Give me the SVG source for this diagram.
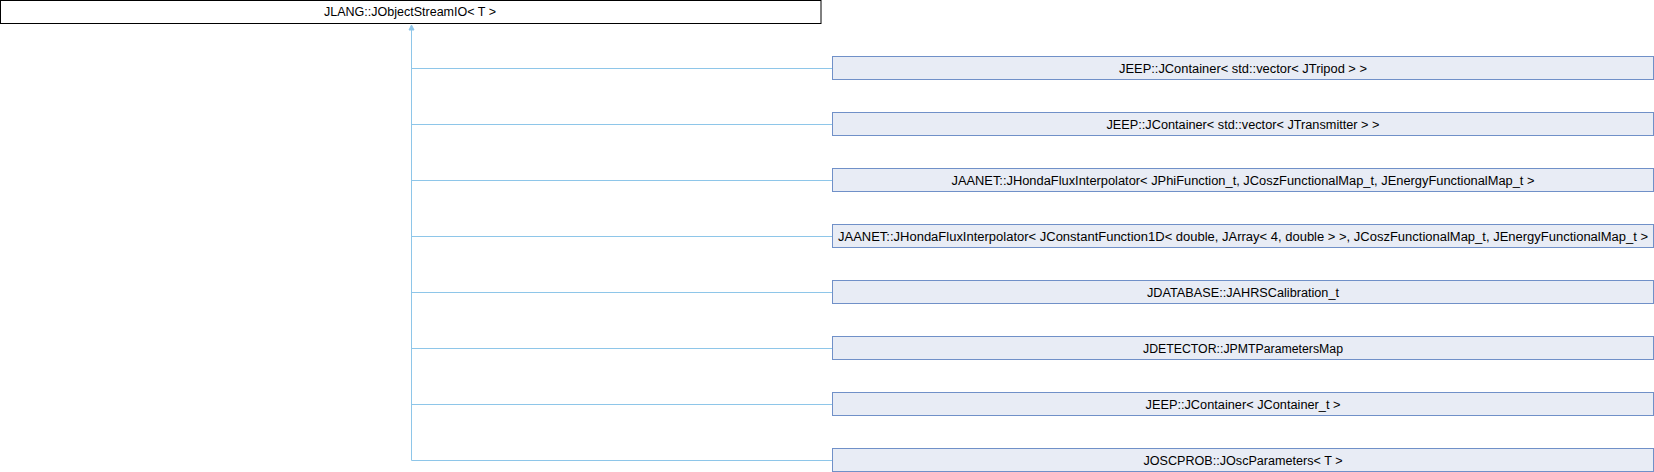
<svg xmlns="http://www.w3.org/2000/svg" width="1654" height="472" viewBox="0 0 1654 472">
<style>
.base rect{fill:#ffffff;stroke:#000000;stroke-width:1}
.node rect{fill:#e8ecf5;stroke:#7090c8;stroke-width:1}
text{font-family:"Liberation Sans",Arial,sans-serif;font-size:12.5px;fill:#000000;text-anchor:middle}
.conn path{fill:none;stroke:#8ec6e9;stroke-width:1}
.conn polygon{fill:#8ec6e9;stroke:#8ec6e9;stroke-width:1}
</style>
<rect x="0" y="0" width="1654" height="472" fill="#ffffff"/>
<g id="connectors" class="conn">
<path d="M411.5,30 V460.5"/>
<path d="M411.5,68.5 H832.5"/>
<path d="M411.5,124.5 H832.5"/>
<path d="M411.5,180.5 H832.5"/>
<path d="M411.5,236.5 H832.5"/>
<path d="M411.5,292.5 H832.5"/>
<path d="M411.5,348.5 H832.5"/>
<path d="M411.5,404.5 H832.5"/>
<path d="M411.5,460.5 H832.5"/>
<polygon points="411.5,25 409,30 414,30"/>
</g>
<g id="n0" class="base"><rect x="0.5" y="0.5" width="820.5" height="23"/><text x="410" y="16" textLength="172" lengthAdjust="spacingAndGlyphs">JLANG::JObjectStreamIO&lt; T &gt;</text></g>
<g id="n1" class="node"><rect x="832.5" y="56.5" width="821" height="23"/><text x="1243" y="72.5" textLength="248" lengthAdjust="spacingAndGlyphs">JEEP::JContainer&lt; std::vector&lt; JTripod &gt; &gt;</text></g>
<g id="n2" class="node"><rect x="832.5" y="112.5" width="821" height="23"/><text x="1243" y="128.5" textLength="273" lengthAdjust="spacingAndGlyphs">JEEP::JContainer&lt; std::vector&lt; JTransmitter &gt; &gt;</text></g>
<g id="n3" class="node"><rect x="832.5" y="168.5" width="821" height="23"/><text x="1243" y="184.5" textLength="583" lengthAdjust="spacingAndGlyphs">JAANET::JHondaFluxInterpolator&lt; JPhiFunction_t, JCoszFunctionalMap_t, JEnergyFunctionalMap_t &gt;</text></g>
<g id="n4" class="node"><rect x="832.5" y="224.5" width="821" height="23"/><text x="1243" y="240.5" textLength="810" lengthAdjust="spacingAndGlyphs">JAANET::JHondaFluxInterpolator&lt; JConstantFunction1D&lt; double, JArray&lt; 4, double &gt; &gt;, JCoszFunctionalMap_t, JEnergyFunctionalMap_t &gt;</text></g>
<g id="n5" class="node"><rect x="832.5" y="280.5" width="821" height="23"/><text x="1243" y="296.5" textLength="192" lengthAdjust="spacingAndGlyphs">JDATABASE::JAHRSCalibration_t</text></g>
<g id="n6" class="node"><rect x="832.5" y="336.5" width="821" height="23"/><text x="1243" y="352.5" textLength="200" lengthAdjust="spacingAndGlyphs">JDETECTOR::JPMTParametersMap</text></g>
<g id="n7" class="node"><rect x="832.5" y="392.5" width="821" height="23"/><text x="1243" y="408.5" textLength="195" lengthAdjust="spacingAndGlyphs">JEEP::JContainer&lt; JContainer_t &gt;</text></g>
<g id="n8" class="node"><rect x="832.5" y="448.5" width="821" height="23"/><text x="1243" y="464.5" textLength="199" lengthAdjust="spacingAndGlyphs">JOSCPROB::JOscParameters&lt; T &gt;</text></g>
</svg>
